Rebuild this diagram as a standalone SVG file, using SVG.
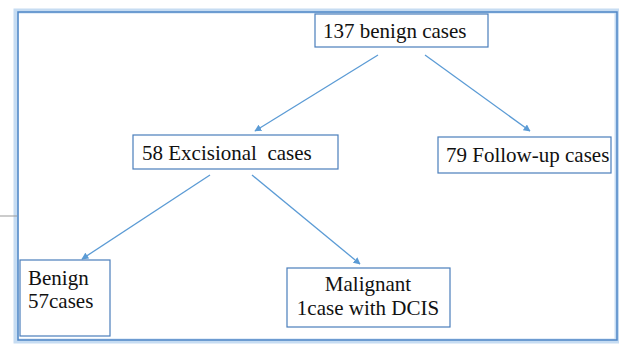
<svg xmlns="http://www.w3.org/2000/svg" width="619" height="345" viewBox="0 0 619 345">
<defs>
<style>
.box{fill:#fff;stroke:#4a7ebb;stroke-width:1.2}
.t{font-family:"Liberation Serif","Times New Roman",serif;font-size:21px;fill:#111}
.c{stroke:#5b9bd5;stroke-width:1.3;fill:none;marker-end:url(#ah)}
</style>
<marker id="ah" viewBox="0 0 10 10" refX="9" refY="5" markerWidth="7" markerHeight="7" orient="auto" markerUnits="userSpaceOnUse">
<path d="M0,0 L10,5 L0,10 z" fill="#5b9bd5"/>
</marker>
</defs>
<rect width="619" height="345" fill="#fff"/>
<g id="frame">
<rect x="16" y="11" width="601" height="330" fill="none" stroke="#c6dcf2" stroke-width="5"/>
<rect x="18" y="12" width="599" height="328" fill="none" stroke="#4f86c6" stroke-width="1.5"/>
<line x1="0" y1="216" x2="17" y2="216" stroke="#999" stroke-width="1"/>
</g>
<g id="connectors">
<line class="c" x1="378" y1="55" x2="255" y2="131"/>
<line class="c" x1="425" y1="55" x2="530" y2="131"/>
<line class="c" x1="210" y1="175" x2="82" y2="259"/>
<line class="c" x1="252" y1="175" x2="360" y2="264"/>
</g>
<g id="n137">
<rect class="box" x="315" y="14" width="173" height="33"/>
<text class="t" x="323" y="38">137 benign cases</text>
</g>
<g id="n58">
<rect class="box" x="133" y="135" width="205" height="34"/>
<text class="t" x="142" y="160" xml:space="preserve">58 Excisional  cases</text>
</g>
<g id="n79">
<rect class="box" x="438" y="137" width="173" height="36"/>
<text class="t" x="446" y="162">79 Follow-up cases</text>
</g>
<g id="nbenign">
<rect class="box" x="20" y="260" width="90" height="76"/>
<text class="t" x="28" y="285">Benign</text>
<text class="t" x="28" y="308">57cases</text>
</g>
<g id="nmalignant">
<rect class="box" x="287" y="268" width="163" height="59"/>
<text class="t" x="368" y="291" text-anchor="middle">Malignant</text>
<text class="t" x="368" y="315" text-anchor="middle">1case with DCIS</text>
</g>
</svg>
